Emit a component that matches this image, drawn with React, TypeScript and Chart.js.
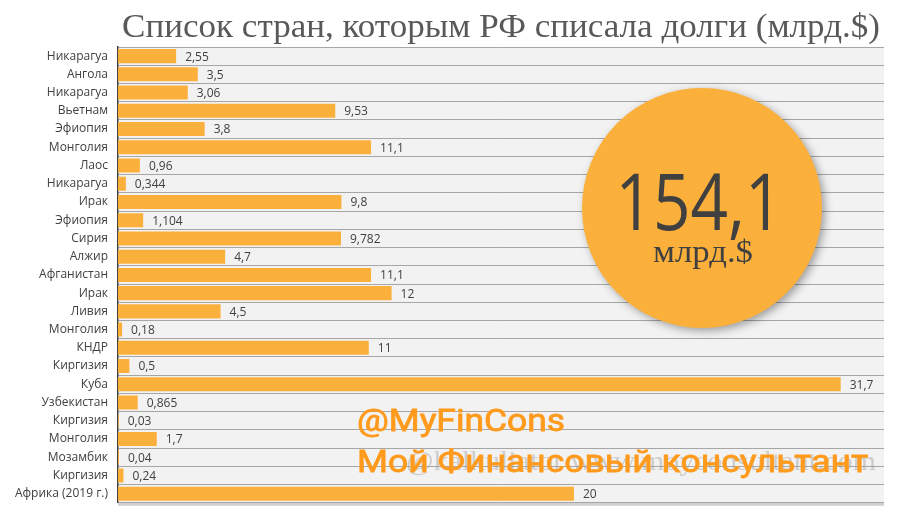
import React, { useEffect, useRef } from "react";
import { Chart, registerables } from "chart.js";

Chart.register(...registerables);

const categories = [
  "Никарагуа", "Ангола", "Никарагуа", "Вьетнам", "Эфиопия", "Монголия", "Лаос",
  "Никарагуа", "Ирак", "Эфиопия", "Сирия", "Алжир", "Афганистан", "Ирак", "Ливия",
  "Монголия", "КНДР", "Киргизия", "Куба", "Узбекистан", "Киргизия", "Монголия",
  "Мозамбик", "Киргизия", "Африка (2019 г.)",
];
const values = [
  2.55, 3.5, 3.06, 9.53, 3.8, 11.1, 0.96, 0.344, 9.8, 1.104, 9.782, 4.7, 11.1, 12,
  4.5, 0.18, 11, 0.5, 31.7, 0.865, 0.03, 1.7, 0.04, 0.24, 20,
];
const titleText = "Список стран, которым РФ списала долги (млрд.$)";
const totalText = "154,1";
const unitText = "млрд.$";
const brandLine1 = "@MyFinCons";
const brandLine2 = "Мой Финансовый консультант";
const faintText = "@kalkuliator www.moyconsultant.com";

const BAR = "#FBB03B";
const TXT = "#404040";

function fitText(ctx: CanvasRenderingContext2D, text: string, x: number, y: number, width: number, align: "left" | "center" | "right", stroke = 0) {
  const w = ctx.measureText(text).width;
  const s = width / w;
  ctx.save();
  ctx.textAlign = "left";
  let left = x;
  if (align === "center") left = x - width / 2;
  if (align === "right") left = x - width;
  ctx.translate(left, y);
  ctx.scale(s, 1);
  ctx.fillText(text, 0, 0);
  if (stroke > 0) {
    ctx.strokeStyle = ctx.fillStyle as string;
    ctx.lineWidth = stroke;
    ctx.strokeText(text, 0, 0);
  }
  ctx.restore();
}

const decorPlugin = {
  id: "decor",
  beforeDraw(chart: any) {
    const { ctx, chartArea } = chart;
    ctx.save();
    ctx.fillStyle = "#ffffff";
    ctx.fillRect(0, 0, chart.width, chart.height);
    ctx.fillStyle = "#D0D0D0";
    ctx.fillRect(chartArea.left, chartArea.bottom, chartArea.right - chartArea.left, 3);
    ctx.fillStyle = "#F2F2F2";
    ctx.fillRect(chartArea.left, chartArea.top, chartArea.right - chartArea.left, chartArea.bottom - chartArea.top);
    ctx.restore();
  },
  afterDatasetsDraw(chart: any) {
    const { ctx } = chart;
    const meta = chart.getDatasetMeta(0);
    ctx.save();
    ctx.font = '12px "Open Sans"';
    ctx.fillStyle = TXT;
    ctx.textBaseline = "middle";
    ctx.textAlign = "left";
    meta.data.forEach((bar: any, i: number) => {
      const label = String(values[i]).replace(".", ",");
      ctx.fillText(label, bar.x + 9, bar.y + 1);
    });
    ctx.restore();
  },
  afterDraw(chart: any) {
    const { ctx } = chart;
    ctx.save();
    // title
    ctx.font = '34px "Liberation Serif"';
    ctx.fillStyle = "#595959";
    ctx.textBaseline = "alphabetic";
    fitText(ctx, titleText, 501, 37, 758, "center");

    // circle
    ctx.save();
    ctx.shadowColor = "rgba(0,0,0,0.35)";
    ctx.shadowBlur = 8;
    ctx.shadowOffsetX = 3;
    ctx.shadowOffsetY = 3;
    ctx.fillStyle = BAR;
    ctx.beginPath();
    ctx.arc(702, 208, 120, 0, Math.PI * 2);
    ctx.fill();
    ctx.restore();

    ctx.fillStyle = TXT;
    ctx.font = '78px "Open Sans"';
    fitText(ctx, totalText, 699, 230, 167, "center");
    ctx.font = '31px "Liberation Serif"';
    fitText(ctx, unitText, 703, 262, 100, "center");

    // faint watermark
    ctx.font = '28px "Liberation Serif"';
    ctx.fillStyle = "rgba(150,150,150,0.4)";
    fitText(ctx, faintText, 876, 470, 470, "right");

    // brand
    ctx.fillStyle = "#FF9A1C";
    ctx.font = '32px Roboto';
    fitText(ctx, brandLine1, 357, 431, 208, "left", 0.8);
    fitText(ctx, brandLine2, 357, 472, 511, "left", 0.8);
    ctx.restore();
  },
};

export default function App() {
  const ref = useRef<HTMLCanvasElement>(null);
  useEffect(() => {
    if (!ref.current) return;
    const chart = new Chart(ref.current, {
      type: "bar",
      data: {
        labels: categories,
        datasets: [
          {
            data: values,
            backgroundColor: BAR,
            borderWidth: 0,
            barPercentage: 0.77,
            categoryPercentage: 1,
          },
        ],
      },
      options: {
        indexAxis: "y",
        animation: false,
        responsive: false,
        maintainAspectRatio: false,
        layout: { padding: { left: 0, right: 16, top: 47, bottom: 17 } },
        plugins: { legend: { display: false }, title: { display: false }, tooltip: { enabled: false } },
        scales: {
          x: { display: false, min: 0, max: 33.6 },
          y: {
            afterFit: (scale: any) => {
              scale.width = 118;
            },
            grid: { offset: true, color: "#A6A6A6", lineWidth: 1, drawTicks: false },
            border: { display: true, color: "#404040", width: 1.5 },
            ticks: { color: TXT, font: { family: "Open Sans", size: 12 }, padding: 10, autoSkip: false },
          },
        },
      },
      plugins: [decorPlugin],
    });
    return () => chart.destroy();
  }, []);
  return (
    <div style={{ position: "fixed", left: 0, top: 0, width: 900, height: 520 }}>
      <canvas ref={ref} width={900} height={520} style={{ display: "block", width: 900, height: 520 }} />
    </div>
  );
}
